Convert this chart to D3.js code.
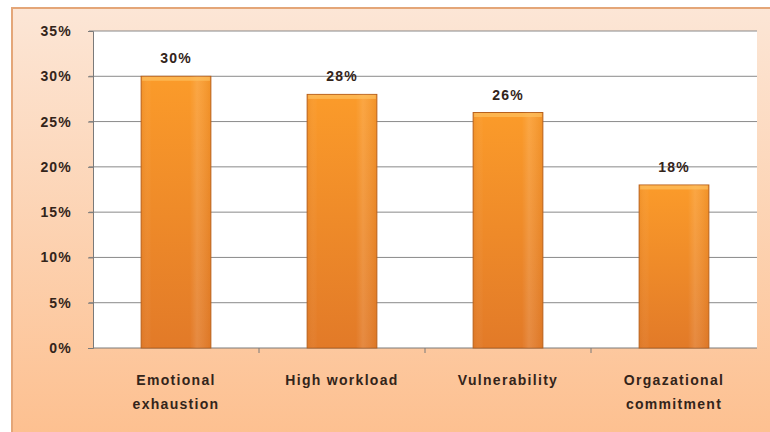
<!DOCTYPE html>
<html><head><meta charset="utf-8">
<script src="https://cdn.jsdelivr.net/npm/d3@7"></script>
<style>body{margin:0;background:#fff}svg{display:block}</style>
</head><body>
<svg id="c" width="770" height="432"></svg>
<script>
const categories = [["Emotional","exhaustion"],["High workload"],["Vulnerability"],["Orgazational","commitment"]];
const values = [0.30, 0.28, 0.26, 0.18];
const labels = ["30%","28%","26%","18%"];
const yTicks = [0,0.05,0.10,0.15,0.20,0.25,0.30,0.35];

const FONT = "Liberation Sans, Arial, sans-serif";
const TXT = "#33241a";
const svg = d3.select("#c");
const defs = svg.append("defs");
const bg = defs.append("linearGradient").attr("id","bg").attr("x1",0).attr("y1",0).attr("x2",0).attr("y2",1);
bg.append("stop").attr("offset","0%").attr("stop-color","#fce6d6");
bg.append("stop").attr("offset","100%").attr("stop-color","#fdbf8e");
const bv = defs.append("linearGradient").attr("id","bv").attr("x1",0).attr("y1",0).attr("x2",0).attr("y2",1);
bv.append("stop").attr("offset","0%").attr("stop-color","#fb9b2a");
bv.append("stop").attr("offset","100%").attr("stop-color","#e27a28");
const bh = defs.append("linearGradient").attr("id","bh").attr("x1",0).attr("y1",0).attr("x2",1).attr("y2",0);
bh.append("stop").attr("offset","0%").attr("stop-color","#c06010").attr("stop-opacity",0.15);
bh.append("stop").attr("offset","15%").attr("stop-color","#ffffff").attr("stop-opacity",0.0);
bh.append("stop").attr("offset","70%").attr("stop-color","#ffffff").attr("stop-opacity",0.0);
bh.append("stop").attr("offset","80%").attr("stop-color","#ffffff").attr("stop-opacity",0.12);
bh.append("stop").attr("offset","100%").attr("stop-color","#c06010").attr("stop-opacity",0.15);

svg.append("rect").attr("width",770).attr("height",432).attr("fill","#ffffff");
svg.append("rect").attr("x",12).attr("y",8).attr("width",770).attr("height",440)
  .attr("fill","url(#bg)").attr("stroke","#e4a678").attr("stroke-width",2);

const m = {l:93, r:757, t:31, b:348};
const x = d3.scaleBand().domain(d3.range(categories.length)).range([m.l,m.r]).paddingInner(0.58).paddingOuter(0.29);
const y = d3.scaleLinear().domain([0,0.35]).range([m.b,m.t]);

svg.append("rect").attr("x",m.l).attr("y",m.t).attr("width",m.r-m.l).attr("height",m.b-m.t).attr("fill","#ffffff");

// gridlines
svg.append("g").selectAll("line").data(yTicks.filter(d=>d>0)).join("line")
  .attr("x1",m.l-4).attr("x2",m.r).attr("y1",d=>y(d)).attr("y2",d=>y(d))
  .attr("stroke","#8a8a8a").attr("stroke-width",1);

// y axis
const ya = svg.append("g").attr("transform",`translate(${m.l},0)`)
  .call(d3.axisLeft(y).tickValues(yTicks).tickFormat(d3.format(".0%")).tickSize(5).tickPadding(16));
ya.select(".domain").attr("stroke","#7a7a7a");
ya.selectAll(".tick line").attr("stroke","#7a7a7a");
ya.selectAll("text").attr("font-family",FONT).attr("font-size",14).attr("letter-spacing",1.2)
  .attr("font-weight","bold").attr("fill",TXT);

// x axis
const outer = d3.scaleBand().domain(d3.range(categories.length)).range([m.l,m.r]);
const xa = svg.append("g").attr("transform",`translate(0,${m.b})`);
xa.append("line").attr("x1",m.l).attr("x2",m.r).attr("stroke","#7a7a7a");
xa.selectAll(".sep").data(d3.range(1,categories.length)).join("line")
  .attr("x1",d=>outer(d)).attr("x2",d=>outer(d)).attr("y1",0).attr("y2",5).attr("stroke","#7a7a7a");
xa.selectAll("text").data(categories).join("text")
  .attr("x",(d,i)=>outer(i)+outer.bandwidth()/2).attr("y",37)
  .attr("text-anchor","middle").attr("font-family",FONT).attr("letter-spacing",1.3)
  .attr("font-size",14).attr("font-weight","bold").attr("fill",TXT)
  .each(function(d){
    const t=d3.select(this);
    d.forEach((s,k)=>t.append("tspan").attr("x",t.attr("x")).attr("dy",k?24:0).text(s));
  });

// bars
const bars = svg.append("g");
bars.selectAll("rect.b").data(values).join("rect").attr("class","b")
  .attr("x",(d,i)=>x(i)).attr("y",d=>y(d)).attr("width",x.bandwidth()).attr("height",d=>y(0)-y(d))
  .attr("fill","url(#bv)").attr("stroke","#b8601c").attr("stroke-width",1);
bars.selectAll("rect.h").data(values).join("rect").attr("class","h")
  .attr("x",(d,i)=>x(i)).attr("y",d=>y(d)).attr("width",x.bandwidth()).attr("height",d=>y(0)-y(d))
  .attr("fill","url(#bh)");
bars.selectAll("rect.t").data(values).join("rect").attr("class","t")
  .attr("x",(d,i)=>x(i)+1).attr("y",d=>y(d)+0.5).attr("width",x.bandwidth()-2).attr("height",4)
  .attr("fill","#fdc060").attr("opacity",0.7);

svg.append("g").selectAll("text").data(values).join("text")
  .attr("x",(d,i)=>x(i)+x.bandwidth()/2).attr("y",d=>y(d)-13)
  .attr("text-anchor","middle").attr("font-family",FONT).attr("letter-spacing",1.2)
  .attr("font-size",14).attr("font-weight","bold").attr("fill",TXT)
  .text((d,i)=>labels[i]);
</script>
</body></html>
